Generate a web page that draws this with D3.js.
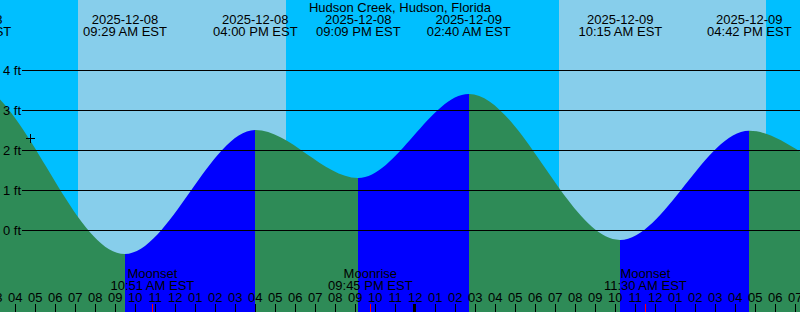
<!DOCTYPE html>
<html>
<head>
<meta charset="utf-8">
<script src="https://cdn.jsdelivr.net/npm/d3@7"></script>
<style>
  html, body { margin: 0; padding: 0; background: #00BFFF; }
  svg { display: block; }
  text { font-family: "Liberation Sans", Arial, sans-serif; font-size: 13px; fill: #000; }
</style>
</head>
<body>
<svg id="chart" width="800" height="312"></svg>
<script>
// ---------------- data ----------------
const title = "Hudson Creek, Hudson, Florida";
const windowStart = "2025-12-08 03:14 AM";
const windowEnd = "2025-12-09 07:14 PM";

// tide extremes (EST), heights in ft (first and last are off-canvas neighbours)
const tideTimes = [
  "2025-12-07 08:10 PM",
  "2025-12-08 01:42 AM",
  "2025-12-08 09:29 AM",
  "2025-12-08 04:00 PM",
  "2025-12-08 09:09 PM",
  "2025-12-09 02:40 AM",
  "2025-12-09 10:15 AM",
  "2025-12-09 04:42 PM",
  "2025-12-09 09:54 PM",
  "2025-12-10 03:25 AM"
];
const tideHeights = [1.2, 3.7, -0.6, 2.5, 1.3, 3.4, -0.25, 2.48, 1.4, 3.3];

const sunriseTimes = ["2025-12-08 07:08 AM", "2025-12-09 07:11 AM"];
const sunsetTimes  = ["2025-12-08 05:32 PM", "2025-12-09 05:32 PM"];

const moonEventNames = ["Moonset", "Moonrise", "Moonset"];
const moonEventTimes = ["2025-12-08 10:51 AM", "2025-12-08 09:45 PM", "2025-12-09 11:30 AM"];

const yTicks = [0, 1, 2, 3, 4];
const nowTime = "2025-12-08 04:44 AM";
const nowHeight = 2.3;

// ---------------- colours ----------------
const C_NIGHT = "#00BFFF", C_DAY = "#87CEEB", C_EBB = "#2E8B57", C_FLOOD = "#0000FF";

// ---------------- setup ----------------
const W = 800, H = 312;
const parse = d3.utcParse("%Y-%m-%d %I:%M %p");
const fmtDate = d3.utcFormat("%Y-%m-%d");
const fmtTime = d3.utcFormat("%I:%M %p EST");
const fmtHour = d3.utcFormat("%I");

const x = d3.scaleUtc().domain([parse(windowStart), parse(windowEnd)]).range([0, W]);
const y = d3.scaleLinear().domain([0, 4]).range([230, 70]);

const tides = tideTimes.map((t, i) => ({ t: parse(t), v: tideHeights[i] }));

const svg = d3.select("#chart");

// background
svg.append("rect").attr("x", 0).attr("y", 0).attr("width", W).attr("height", H).attr("fill", C_NIGHT);
svg.selectAll("rect.day").data(sunriseTimes).enter().append("rect")
  .attr("class", "day")
  .attr("x", d => Math.round(x(parse(d))))
  .attr("y", 0)
  .attr("width", (d, i) => Math.round(x(parse(sunsetTimes[i]))) - Math.round(x(parse(d))))
  .attr("height", H)
  .attr("fill", C_DAY);

// tide area
const area = d3.area()
  .x(d => x(d.t))
  .y0(H)
  .y1(d => y(d.v))
  .curve(d3.curveMonotoneX);

const defs = svg.append("defs");
const segs = d3.pairs(tides);
segs.forEach(([a, b], i) => {
  defs.append("clipPath").attr("id", "seg" + i)
    .append("rect")
    .attr("x", Math.round(x(a.t)))
    .attr("y", 0)
    .attr("width", Math.round(x(b.t)) - Math.round(x(a.t)))
    .attr("height", H);
  svg.append("path")
    .datum(tides)
    .attr("d", area)
    .attr("fill", b.v > a.v ? C_FLOOD : C_EBB)
    .attr("clip-path", "url(#seg" + i + ")");
});

// grid lines
svg.selectAll("line.grid").data(yTicks).enter().append("line")
  .attr("x1", 22).attr("x2", W)
  .attr("y1", d => Math.round(y(d)) + 0.5).attr("y2", d => Math.round(y(d)) + 0.5)
  .attr("stroke", "#000").attr("stroke-width", 1);
svg.selectAll("text.ylab").data(yTicks).enter().append("text")
  .attr("x", 3).attr("y", d => Math.round(y(d)) + 5)
  .text(d => d + " ft");

// title
svg.append("text").attr("x", W / 2).attr("y", 12).attr("text-anchor", "middle").text(title);

// tide event labels (only those that reach into the picture)
const visibleTides = tides.filter(d => x(d.t) > -45 && x(d.t) < W + 45);
const tl = svg.selectAll("g.tl").data(visibleTides).enter().append("g")
  .attr("transform", d => `translate(${x(d.t)},0)`);
tl.append("text").attr("y", 24).attr("text-anchor", "middle").text(d => fmtDate(d.t));
tl.append("text").attr("y", 36).attr("text-anchor", "middle").text(d => fmtTime(d.t));

// moon events
const moons = moonEventTimes.map((t, i) => ({ t: parse(t), name: moonEventNames[i] }));
const ml = svg.selectAll("g.ml").data(moons).enter().append("g")
  .attr("transform", d => `translate(${x(d.t)},0)`);
ml.append("text").attr("y", 278).attr("text-anchor", "middle").text(d => d.name);
ml.append("text").attr("y", 290).attr("text-anchor", "middle").text(d => fmtTime(d.t));

// hour axis
const hours = d3.utcHour.range(d3.utcHour.floor(x.domain()[0]), d3.utcHour.offset(x.domain()[1], 1))
  .filter(d => x(d) > -8 && x(d) < W + 8);
svg.selectAll("text.hr").data(hours).enter().append("text")
  .attr("x", d => x(d)).attr("y", 302).attr("text-anchor", "middle")
  .text(d => fmtHour(d));
svg.selectAll("rect.tick").data(hours).enter().append("rect")
  .attr("x", d => d.getUTCHours() === 0 ? Math.round(x(d)) - 2 : Math.round(x(d)))
  .attr("y", 304)
  .attr("width", d => d.getUTCHours() === 0 ? 3 : 1)
  .attr("height", H - 304)
  .attr("fill", "#000");
svg.selectAll("rect.mtick").data(moons).enter().append("rect")
  .attr("x", d => Math.round(x(d.t)))
  .attr("y", 304).attr("width", 1).attr("height", H - 304)
  .attr("fill", "#FF0000");

// now marker
const nx = Math.round(x(parse(nowTime))) + 0.5, ny = Math.round(y(nowHeight)) + 0.5;
svg.append("line").attr("x1", nx - 4.5).attr("x2", nx + 4.5).attr("y1", ny).attr("y2", ny).attr("stroke", "#000");
svg.append("line").attr("x1", nx).attr("x2", nx).attr("y1", ny - 4.5).attr("y2", ny + 4.5).attr("stroke", "#000");
</script>
</body>
</html>
